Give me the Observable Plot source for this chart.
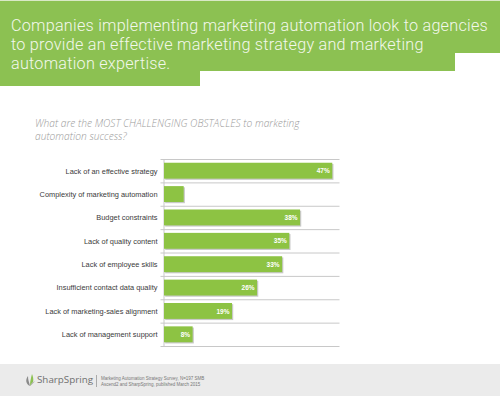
<!DOCTYPE html>
<html>
<head>
<meta charset="utf-8">
<script src="https://cdn.jsdelivr.net/npm/d3@7"></script>
<script src="https://cdn.jsdelivr.net/npm/@observablehq/plot@0.6"></script>
<style>
  html, body { margin: 0; padding: 0; background: #fff; }
  #page { position: relative; width: 500px; height: 396px; overflow: hidden; background: #fff; font-family: "Open Sans", sans-serif; }
  .g { position: absolute; background: #8cc152; }
  .tl { position: absolute; left: 11px; height: 19px; white-space: nowrap; color: #f3f8ec; font-family: Roboto, sans-serif; font-weight: 300; font-size: 16.2px; line-height: 19px; letter-spacing: 0.25px; }
  .st { position: absolute; left: 35px; height: 13px; white-space: nowrap; color: #9a9a9a; font-family: "Open Sans", sans-serif; font-style: italic; font-size: 10.2px; line-height: 13px; font-weight: 300; }
  #chart { position: absolute; left: 0; top: 140px; }
  #footer { position: absolute; left: 0; top: 364px; width: 500px; height: 32px; background: #ebebeb; }
  #logo { position: absolute; left: 37px; top: 10px; font-family: "Open Sans", sans-serif; font-size: 9.8px; line-height: 12px; color: #6f6f6f; font-weight: 400; }
  #leaf { position: absolute; left: 25px; top: 9px; }
  #sep { position: absolute; left: 96px; top: 11px; width: 1px; height: 12px; background: #aaa; }
  .src { position: absolute; left: 101px; font-family: "Liberation Sans", sans-serif; font-size: 4.5px; line-height: 5.5px; height: 5.5px; white-space: nowrap; color: #777; }
</style>
</head>
<body>
<div id="page">
  <div class="g" style="left:0;top:1px;width:500px;height:52px;"></div>
  <div class="g" style="left:0;top:50px;width:455px;height:21px;"></div>
  <div class="g" style="left:0;top:70px;width:200px;height:16px;"></div>
  <div style="position:absolute;left:0;top:0;width:500px;height:1px;background:#d9e9c6;"></div>
  <div class="tl" style="top:16px;">Companies implementing marketing automation look to agencies</div>
  <div class="tl" style="top:35px;">to provide an effective marketing strategy and marketing</div>
  <div class="tl" style="top:54px;">automation expertise.</div>
  <div class="st" style="top:117px;">What are the MOST CHALLENGING OBSTACLES to marketing</div>
  <div class="st" style="top:130px;">automation success?</div>
  <div id="chart"></div>
  <div id="footer">
    <svg id="leaf" width="10" height="14" viewBox="0 0 10 14">
      <path d="M5 13 C1 11 0 7 3 3 C3 7 4 9 5 13 Z" fill="#8a8a8a"/>
      <path d="M5 13 C9 10 9 6 7 1 C6 5 5 8 5 13 Z" fill="#8cc152"/>
      <path d="M5 13 C7 11 9 10 10 8 C8 9 6 10 5 13 Z" fill="#b5b5b5"/>
    </svg>
    <div id="logo">SharpSpring</div>
    <div id="sep"></div>
    <div class="src" style="top:12px;">Marketing Automation Strategy Survey, N=197 SMB</div>
    <div class="src" style="top:17.5px;">Ascend2 and SharpSpring, published March 2015</div>
  </div>
</div>
<script>
const categories = [
  "Lack of an effective strategy",
  "Complexity of marketing automation",
  "Budget constraints",
  "Lack of quality content",
  "Lack of employee skills",
  "Insufficient contact data quality",
  "Lack of marketing-sales alignment",
  "Lack of management support"
];
const values = [47, 5.5, 38, 35, 33, 26, 19, 8];
const valueLabels = ["47%", "", "38%", "35%", "33%", "26%", "19%", "8%"];
const boundaries = [-0.5, 0.5, 1.5, 2.5, 3.5, 4.5, 5.5, 6.5, 7.5];

const data = categories.map((c, i) => ({i, category: c, value: values[i], label: valueLabels[i]}));
const green = "#8dc343";
const half = 0.34;

const chart = Plot.plot({
  width: 500,
  height: 220,
  marginTop: 19,
  marginBottom: 14,
  marginLeft: 164,
  marginRight: 157,
  x: {domain: [0, 50], axis: null},
  y: {domain: [7.5, -0.5], axis: null},
  style: {background: "transparent", overflow: "visible"},
  marks: [
    Plot.ruleX([0], {y1: -0.5, y2: 7.5, stroke: "#c8c8c8", strokeWidth: 1, dx: -0.5}),
    Plot.tickY(boundaries, {y: d => d, x1: 0, x2: 0, stroke: "#c8c8c8", dx: -3.5}),
    Plot.rectX(data, {x1: 0, x2: "value", y1: d => d.i - half, y2: d => d.i + half, fill: "#c9c9c9", dx: 1.2, dy: 1.2}),
    Plot.rectX(data, {x1: 0, x2: "value", y1: d => d.i - half, y2: d => d.i + half, fill: green}),
    Plot.text(data, {x: 0, y: "i", text: "category", textAnchor: "end", dx: -7, fontSize: 7.4, fill: "#3a3a3a", fontFamily: "Liberation Sans, sans-serif"}),
    Plot.text(data, {x: "value", y: "i", text: "label", textAnchor: "end", dx: -3, fontSize: 6.5, fontWeight: "bold", fill: "#fff", fontFamily: "Liberation Sans, sans-serif"})
  ]
});
document.getElementById("chart").appendChild(chart);
</script>
</body>
</html>
